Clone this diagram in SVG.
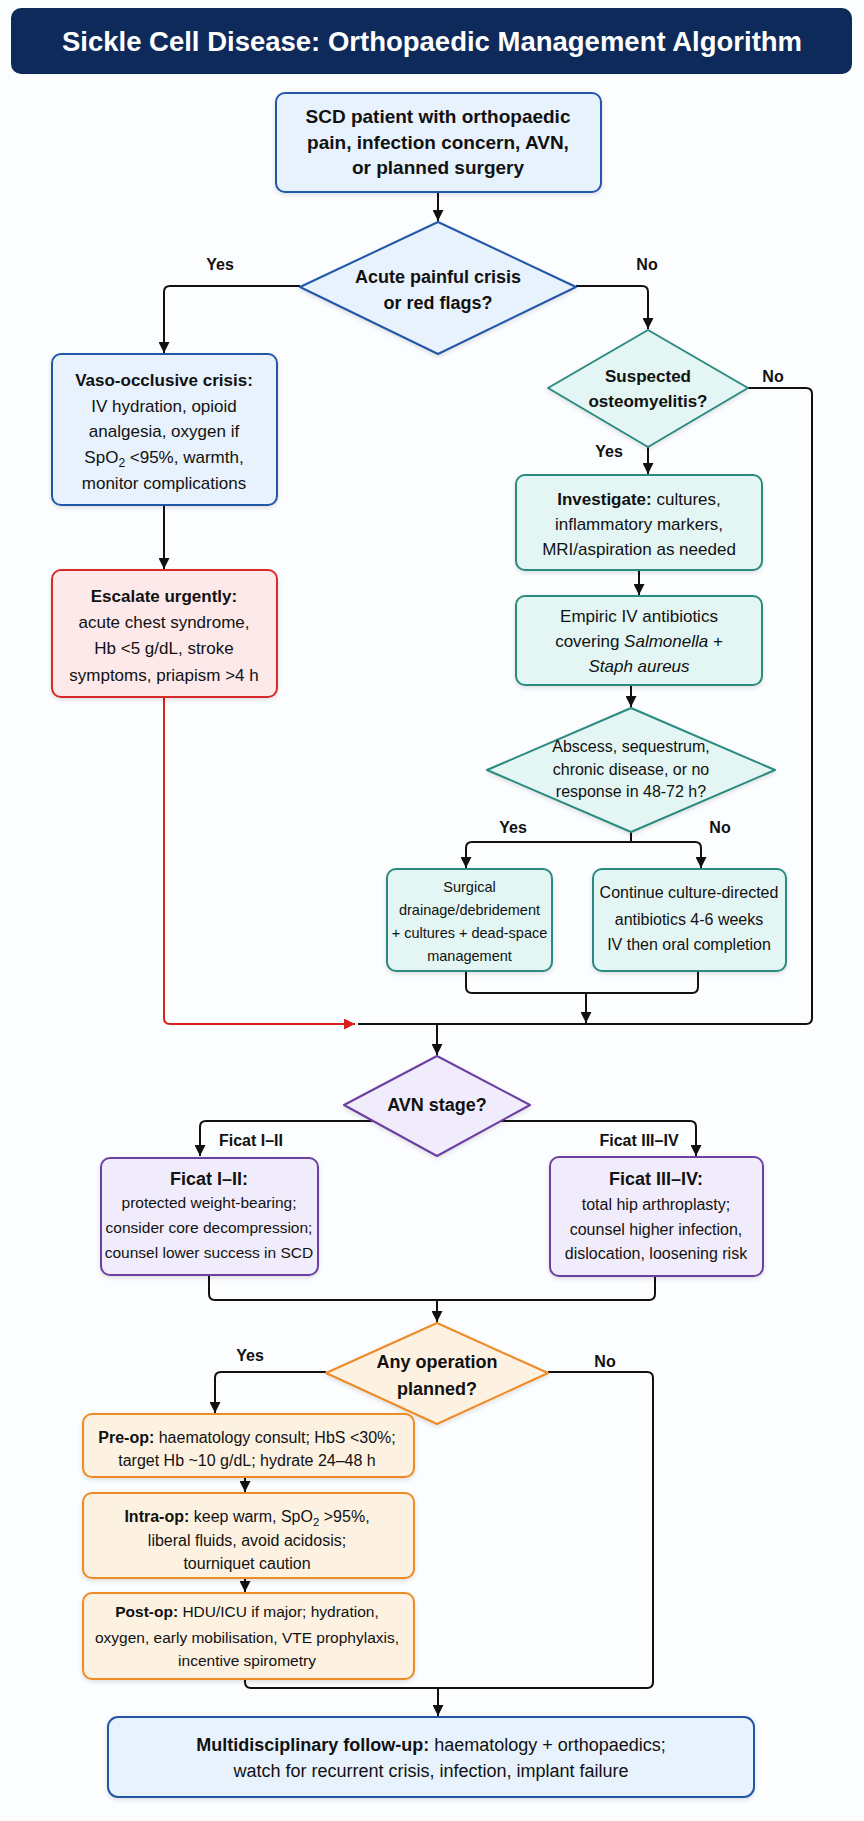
<svg xmlns="http://www.w3.org/2000/svg" width="864" height="1821" viewBox="0 0 864 1821">
<defs>
<marker id="arr" viewBox="0 0 10 10" refX="10" refY="5" markerWidth="11" markerHeight="11" markerUnits="userSpaceOnUse" orient="auto"><path d="M0,0 L10,5 L0,10 z" fill="#111"/></marker>
<marker id="arrRed" viewBox="0 0 10 10" refX="10" refY="5" markerWidth="11" markerHeight="11" markerUnits="userSpaceOnUse" orient="auto"><path d="M0,0 L10,5 L0,10 z" fill="#d9201c"/></marker>
<filter id="sh" x="-10%" y="-10%" width="120%" height="130%"><feDropShadow dx="0" dy="2" stdDeviation="2" flood-color="#000" flood-opacity="0.12"/></filter>
</defs>
<style>
text{font-family:"Liberation Sans",Arial,sans-serif;fill:#111;text-anchor:middle}
.b{font-weight:bold}
.it{font-style:italic}
.title{font-size:27.5px;font-weight:bold;fill:#fff}
.lbl{font-size:16px;font-weight:bold}
.blue{fill:#e8f2fc;stroke:#2257a8;stroke-width:2}
.teal{fill:#e3f6f4;stroke:#2b8a80;stroke-width:2}
.red{fill:#fde9ea;stroke:#d92b2b;stroke-width:2}
.purple{fill:#f1ecfb;stroke:#6b3fa0;stroke-width:2}
.orange{fill:#fdf1e2;stroke:#ee8a26;stroke-width:2}
.c{fill:none;stroke:#111;stroke-width:2;stroke-linejoin:round}
.cr{fill:none;stroke:#d9201c;stroke-width:2;stroke-linejoin:round}
</style>
<rect width="864" height="1821" fill="#fcfdfe"/>

<g id="title">
<rect x="11" y="8" width="841" height="66" rx="10" fill="#0e2a5a"/>
<text class="title" x="432" y="51">Sickle Cell Disease: Orthopaedic Management Algorithm</text>
</g>

<g id="connectors">
<path class="c" d="M438 192 V221" marker-end="url(#arr)"/>
<path class="c" d="M300 286 H170 Q164 286 164 292 V353" marker-end="url(#arr)"/>
<path class="c" d="M576 286 H642 Q648 286 648 292 V329" marker-end="url(#arr)"/>
<path class="c" d="M747 388 H806 Q812 388 812 394 V1018 Q812 1024 806 1024 H358"/>
<path class="c" d="M648 447 V474" marker-end="url(#arr)"/>
<path class="c" d="M639 570 V595" marker-end="url(#arr)"/>
<path class="c" d="M631 685 V707" marker-end="url(#arr)"/>
<path class="c" d="M631 832 V842 H472 Q466 842 466 848 V868" marker-end="url(#arr)"/>
<path class="c" d="M631 842 H695 Q701 842 701 848 V868" marker-end="url(#arr)"/>
<path class="c" d="M466 971 V987 Q466 993 472 993 H692 Q698 993 698 987 V971"/>
<path class="c" d="M586 993 V1023" marker-end="url(#arr)"/>
<path class="c" d="M164 505 V569" marker-end="url(#arr)"/>
<path class="cr" d="M164 697 V1018 Q164 1024 170 1024 H355" marker-end="url(#arrRed)"/>
<path class="c" d="M437 1024 V1055" marker-end="url(#arr)"/>
<path class="c" d="M374 1121 H206 Q200 1121 200 1127 V1156" marker-end="url(#arr)"/>
<path class="c" d="M500 1121 H690 Q696 1121 696 1127 V1156" marker-end="url(#arr)"/>
<path class="c" d="M209 1275 V1294 Q209 1300 215 1300 H649 Q655 1300 655 1294 V1276"/>
<path class="c" d="M437 1300 V1322" marker-end="url(#arr)"/>
<path class="c" d="M326 1372 H221 Q215 1372 215 1378 V1413" marker-end="url(#arr)"/>
<path class="c" d="M548 1372 H647 Q653 1372 653 1378 V1682 Q653 1688 647 1688 H251 Q245 1688 245 1682 V1679"/>
<path class="c" d="M438 1688 V1716" marker-end="url(#arr)"/>
<path class="c" d="M245 1477 V1492" marker-end="url(#arr)"/>
<path class="c" d="M245 1578 V1592" marker-end="url(#arr)"/>
<text class="lbl" x="220" y="270">Yes</text>
<text class="lbl" x="647" y="270">No</text>
<text class="lbl" x="773" y="382">No</text>
<text class="lbl" x="609" y="457">Yes</text>
<text class="lbl" x="513" y="833">Yes</text>
<text class="lbl" x="720" y="833">No</text>
<text class="lbl" x="251" y="1146">Ficat I–II</text>
<text class="lbl" x="639" y="1146">Ficat III–IV</text>
<text class="lbl" x="250" y="1361">Yes</text>
<text class="lbl" x="605" y="1367">No</text>
</g>

<g id="start">
<rect class="blue" x="276" y="93" width="325" height="99" rx="9" filter="url(#sh)"/>
<text class="b" font-size="19" x="438" y="123">SCD patient with orthopaedic</text>
<text class="b" font-size="19" x="438" y="149">pain, infection concern, AVN,</text>
<text class="b" font-size="19" x="438" y="174">or planned surgery</text>
</g>

<g id="acute">
<polygon class="blue" points="438,222 576,287 438,354 300,287" stroke-linejoin="round" filter="url(#sh)"/>
<text class="b" font-size="18" x="438" y="283">Acute painful crisis</text>
<text class="b" font-size="18" x="438" y="309">or red flags?</text>
</g>

<g id="voc">
<rect class="blue" x="52" y="354" width="225" height="151" rx="9" filter="url(#sh)"/>
<text class="b" font-size="17" x="164" y="386">Vaso-occlusive crisis:</text>
<text font-size="17" x="164" y="412">IV hydration, opioid</text>
<text font-size="17" x="164" y="437">analgesia, oxygen if</text>
<text font-size="17" x="164" y="463">SpO<tspan font-size="12" dy="4">2</tspan><tspan dy="-4"> &lt;95%, warmth,</tspan></text>
<text font-size="17" x="164" y="489">monitor complications</text>
</g>

<g id="escalate">
<rect class="red" x="52" y="570" width="225" height="127" rx="9" filter="url(#sh)"/>
<text class="b" font-size="17" x="164" y="602">Escalate urgently:</text>
<text font-size="17" x="164" y="628">acute chest syndrome,</text>
<text font-size="17" x="164" y="654">Hb &lt;5 g/dL, stroke</text>
<text font-size="17" x="164" y="681">symptoms, priapism &gt;4 h</text>
</g>

<g id="osteo">
<polygon class="teal" points="648,330 748,388 648,447 548,388" stroke-linejoin="round" filter="url(#sh)"/>
<text class="b" font-size="17" x="648" y="382">Suspected</text>
<text class="b" font-size="17" x="648" y="407">osteomyelitis?</text>
</g>

<g id="investigate">
<rect class="teal" x="516" y="475" width="246" height="95" rx="9" filter="url(#sh)"/>
<text font-size="17" x="639" y="505"><tspan class="b">Investigate:</tspan> cultures,</text>
<text font-size="17" x="639" y="530">inflammatory markers,</text>
<text font-size="17" x="639" y="555">MRI/aspiration as needed</text>
</g>

<g id="empiric">
<rect class="teal" x="516" y="596" width="246" height="89" rx="9" filter="url(#sh)"/>
<text font-size="17" x="639" y="622">Empiric IV antibiotics</text>
<text font-size="17" x="639" y="647">covering <tspan class="it">Salmonella</tspan> +</text>
<text font-size="17" x="639" y="672" class="it">Staph aureus</text>
</g>

<g id="abscess">
<polygon class="teal" points="631,708 775,770 631,832 487,770" stroke-linejoin="round" filter="url(#sh)"/>
<text font-size="16" x="631" y="752">Abscess, sequestrum,</text>
<text font-size="16" x="631" y="775">chronic disease, or no</text>
<text font-size="16" x="631" y="797">response in 48-72 h?</text>
</g>

<g id="surgical">
<rect class="teal" x="387" y="869" width="165" height="102" rx="9" filter="url(#sh)"/>
<text font-size="14.5" x="469.5" y="892">Surgical</text>
<text font-size="14.5" x="469.5" y="915">drainage/debridement</text>
<text font-size="14.5" x="469.5" y="938">+ cultures + dead-space</text>
<text font-size="14.5" x="469.5" y="961">management</text>
</g>

<g id="continue">
<rect class="teal" x="593" y="869" width="193" height="102" rx="9" filter="url(#sh)"/>
<text font-size="16" x="689" y="898">Continue culture-directed</text>
<text font-size="16" x="689" y="925">antibiotics 4-6 weeks</text>
<text font-size="16" x="689" y="950">IV then oral completion</text>
</g>

<g id="avn">
<polygon class="purple" points="437,1056 530,1105 437,1156 344,1105" stroke-linejoin="round" filter="url(#sh)"/>
<text class="b" font-size="18" x="437" y="1111">AVN stage?</text>
</g>

<g id="ficat12">
<rect class="purple" x="101" y="1158" width="217" height="117" rx="9" filter="url(#sh)"/>
<text class="b" font-size="18" x="209" y="1185">Ficat I–II:</text>
<text font-size="15.5" x="209" y="1208">protected weight-bearing;</text>
<text font-size="15.5" x="209" y="1233">consider core decompression;</text>
<text font-size="15.5" x="209" y="1258">counsel lower success in SCD</text>
</g>

<g id="ficat34">
<rect class="purple" x="550" y="1157" width="213" height="119" rx="9" filter="url(#sh)"/>
<text class="b" font-size="18" x="656" y="1185">Ficat III–IV:</text>
<text font-size="16" x="656" y="1210">total hip arthroplasty;</text>
<text font-size="16" x="656" y="1235">counsel higher infection,</text>
<text font-size="16" x="656" y="1259">dislocation, loosening risk</text>
</g>

<g id="operation">
<polygon class="orange" points="437,1323 548,1373 437,1424 326,1373" stroke-linejoin="round" filter="url(#sh)"/>
<text class="b" font-size="18" x="437" y="1368">Any operation</text>
<text class="b" font-size="18" x="437" y="1395">planned?</text>
</g>

<g id="preop">
<rect class="orange" x="83" y="1414" width="331" height="63" rx="9" filter="url(#sh)"/>
<text font-size="16" x="247" y="1443"><tspan class="b">Pre-op:</tspan> haematology consult; HbS &lt;30%;</text>
<text font-size="16" x="247" y="1466">target Hb ~10 g/dL; hydrate 24–48 h</text>
</g>

<g id="intraop">
<rect class="orange" x="83" y="1493" width="331" height="85" rx="9" filter="url(#sh)"/>
<text font-size="16" x="247" y="1522"><tspan class="b">Intra-op:</tspan> keep warm, SpO<tspan font-size="11.5" dy="4">2</tspan><tspan dy="-4"> &gt;95%,</tspan></text>
<text font-size="16" x="247" y="1546">liberal fluids, avoid acidosis;</text>
<text font-size="16" x="247" y="1569">tourniquet caution</text>
</g>

<g id="postop">
<rect class="orange" x="83" y="1593" width="331" height="86" rx="9" filter="url(#sh)"/>
<text font-size="15.5" x="247" y="1617"><tspan class="b">Post-op:</tspan> HDU/ICU if major; hydration,</text>
<text font-size="15.5" x="247" y="1643">oxygen, early mobilisation, VTE prophylaxis,</text>
<text font-size="15.5" x="247" y="1666">incentive spirometry</text>
</g>

<g id="followup">
<rect class="blue" x="108" y="1717" width="646" height="80" rx="10" filter="url(#sh)"/>
<text font-size="18" x="431" y="1751"><tspan class="b">Multidisciplinary follow-up:</tspan> haematology + orthopaedics;</text>
<text font-size="18" x="431" y="1777">watch for recurrent crisis, infection, implant failure</text>
</g>
</svg>
